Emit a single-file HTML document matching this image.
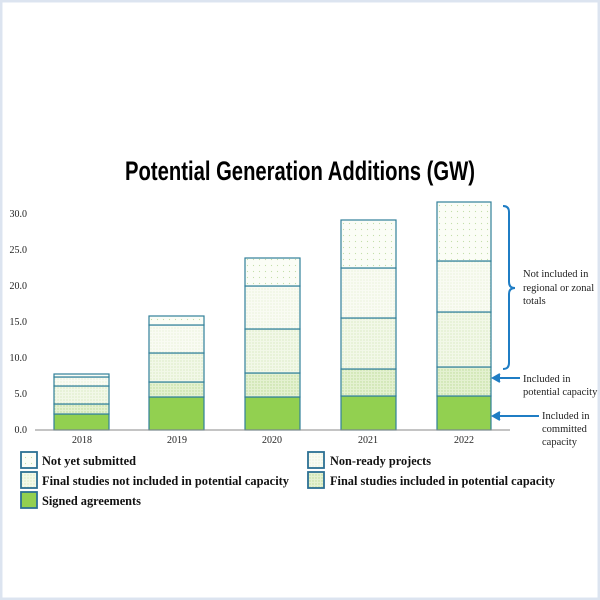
<!DOCTYPE html>
<html><head><style>body{margin:0;background:#fff}svg{display:block}</style></head><body>
<svg width="600" height="600" xmlns="http://www.w3.org/2000/svg">
<defs>
<pattern id="p1" width="6" height="6" patternUnits="userSpaceOnUse"><rect width="6" height="6" fill="#fbfdf6"/><circle cx="1.5" cy="1.5" r="0.6" fill="#c4dfa8"/></pattern>
<pattern id="p2" width="3" height="3" patternUnits="userSpaceOnUse"><rect width="3" height="3" fill="#f9fbf3"/><circle cx="1" cy="1" r="0.5" fill="#d3e6bb"/></pattern>
<pattern id="p3" width="3" height="3" patternUnits="userSpaceOnUse"><rect width="3" height="3" fill="#f2f8e8"/><circle cx="1" cy="1" r="0.6" fill="#cde3b2"/></pattern>
<pattern id="p4" width="3" height="3" patternUnits="userSpaceOnUse"><rect width="3" height="3" fill="#e4f1d1"/><circle cx="1" cy="1" r="0.7" fill="#bddc98"/></pattern>
</defs>
<rect x="1" y="1" width="598" height="598" fill="#fff" stroke="#dce4f0" stroke-width="3"/>
<text x="300" y="180" text-anchor="middle" font-family="Liberation Sans, sans-serif" font-weight="bold" font-size="27" textLength="350" lengthAdjust="spacingAndGlyphs">Potential Generation Additions (GW)</text>
<g font-family="Liberation Serif, serif" font-size="10" text-anchor="end" fill="#222">
<text x="27" y="433">0.0</text><text x="27" y="397">5.0</text><text x="27" y="361">10.0</text><text x="27" y="325">15.0</text><text x="27" y="289">20.0</text><text x="27" y="253">25.0</text><text x="27" y="217">30.0</text>
</g>
<g stroke="#31809a" stroke-width="1.2">
<rect x="54" y="414" width="55" height="16" fill="#92d050"/><rect x="54" y="404" width="55" height="10" fill="url(#p4)"/><rect x="54" y="386" width="55" height="18" fill="url(#p3)"/><rect x="54" y="377" width="55" height="9" fill="url(#p2)"/><rect x="54" y="374" width="55" height="3" fill="url(#p1)"/>
<rect x="149" y="397" width="55" height="33" fill="#92d050"/><rect x="149" y="382" width="55" height="15" fill="url(#p4)"/><rect x="149" y="353" width="55" height="29" fill="url(#p3)"/><rect x="149" y="325" width="55" height="28" fill="url(#p2)"/><rect x="149" y="316" width="55" height="9" fill="url(#p1)"/>
<rect x="245" y="397" width="55" height="33" fill="#92d050"/><rect x="245" y="373" width="55" height="24" fill="url(#p4)"/><rect x="245" y="329" width="55" height="44" fill="url(#p3)"/><rect x="245" y="286" width="55" height="43" fill="url(#p2)"/><rect x="245" y="258" width="55" height="28" fill="url(#p1)"/>
<rect x="341" y="396" width="55" height="34" fill="#92d050"/><rect x="341" y="369" width="55" height="27" fill="url(#p4)"/><rect x="341" y="318" width="55" height="51" fill="url(#p3)"/><rect x="341" y="268" width="55" height="50" fill="url(#p2)"/><rect x="341" y="220" width="55" height="48" fill="url(#p1)"/>
<rect x="437" y="396" width="54" height="34" fill="#92d050"/><rect x="437" y="367" width="54" height="29" fill="url(#p4)"/><rect x="437" y="312" width="54" height="55" fill="url(#p3)"/><rect x="437" y="261" width="54" height="51" fill="url(#p2)"/><rect x="437" y="202" width="54" height="59" fill="url(#p1)"/>
</g>
<line x1="35" y1="430" x2="510" y2="430" stroke="#888" stroke-width="1"/>
<g font-family="Liberation Serif, serif" font-size="10" text-anchor="middle" fill="#222">
<text x="82" y="443">2018</text><text x="177" y="443">2019</text><text x="272" y="443">2020</text><text x="368" y="443">2021</text><text x="464" y="443">2022</text>
</g>
<g stroke="#1f7dc4" stroke-width="2" fill="none">
<path d="M503 206 Q509 206 509 212 L509 282 Q509 288 515 288 Q509 288 509 294 L509 363 Q509 369 503 369"/>
<line x1="520" y1="378" x2="495" y2="378"/><path d="M500 374 L493 378 L500 382" fill="#1f7dc4"/>
<line x1="539" y1="416" x2="495" y2="416"/><path d="M500 412 L493 416 L500 420" fill="#1f7dc4"/>
</g>
<g font-family="Liberation Serif, serif" font-size="10.5" fill="#222">
<text x="523" y="277">Not included in</text><text x="523" y="291">regional or zonal</text><text x="523" y="304">totals</text>
<text x="523" y="382">Included in</text><text x="523" y="395">potential capacity</text>
<text x="542" y="419">Included in</text><text x="542" y="432">committed</text><text x="542" y="445">capacity</text>
</g>
<g stroke="#2c7093" stroke-width="1.8">
<rect x="21" y="452" width="16" height="16" fill="url(#p1)"/>
<rect x="21" y="472" width="16" height="16" fill="url(#p3)"/>
<rect x="21" y="492" width="16" height="16" fill="#92d050"/>
<rect x="308" y="452" width="16" height="16" fill="url(#p2)"/>
<rect x="308" y="472" width="16" height="16" fill="url(#p4)"/>
</g>
<g font-family="Liberation Serif, serif" font-weight="bold" font-size="12.5" fill="#111">
<text x="42" y="465" textLength="94" lengthAdjust="spacingAndGlyphs">Not yet submitted</text>
<text x="42" y="485" textLength="247" lengthAdjust="spacingAndGlyphs">Final studies not included in potential capacity</text>
<text x="42" y="505" textLength="99" lengthAdjust="spacingAndGlyphs">Signed agreements</text>
<text x="330" y="465" textLength="101" lengthAdjust="spacingAndGlyphs">Non-ready projects</text>
<text x="330" y="485" textLength="225" lengthAdjust="spacingAndGlyphs">Final studies included in potential capacity</text>
</g>
</svg>
</body></html>
